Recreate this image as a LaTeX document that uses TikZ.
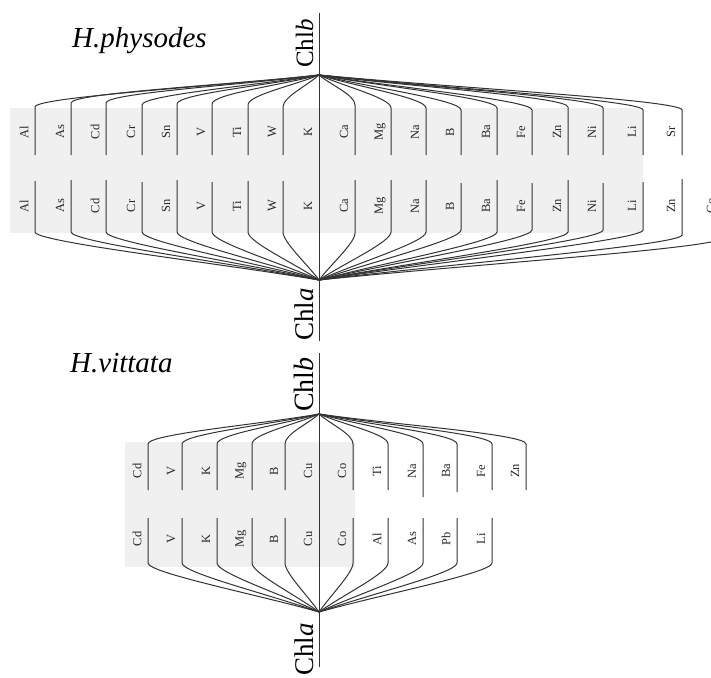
\documentclass[tikz,border=0pt]{standalone}
\usepackage{fontspec}
\setmainfont{Liberation Serif}
\usetikzlibrary{calc}
\begin{document}
\begin{tikzpicture}[x=1pt,y=-1pt,
  conn/.style={draw=black!80,line width=1pt},
  elem/.style={rotate=90,inner sep=0pt,font=\fontsize{12.5}{13}\selectfont,text=black!85},
  chl/.style={rotate=90,anchor=base west,inner sep=0pt,text=black},
  species/.style={anchor=base west,inner sep=0pt,font=\fontsize{29}{32}\selectfont\itshape},
  band/.style={fill=black!6,draw=none}]
\useasboundingbox (0,0) rectangle (711,677);
% background bands
\fill[band] (10,108) rectangle (643,233);
\fill[band] (125,442) rectangle (355,567);
% hubs
\coordinate (hubA) at (319,75);
\coordinate (hubB) at (319,280);
\coordinate (hubC) at (319,414);
\coordinate (hubD) at (319,612);
\coordinate (topA) at (319,13);
\coordinate (botB) at (319,341);
\coordinate (topC) at (319,353);
\coordinate (botD) at (319,667);
% titles
\node[species] (sp1) at (72,48) {H.physodes};
\node[species] (sp2) at (70,372) {H.vittata};
% Chl labels
\node[chl,font=\fontsize{25}{30}\selectfont] (chlbA) at (313,68) {Chl\textit{b}};
\node[chl,font=\fontsize{27}{30}\selectfont] (chlaB) at (313,341) {Chl\textit{a}};
\node[chl,font=\fontsize{28}{30}\selectfont] (chlbC) at (313,412) {Chl\textit{b}};
\node[chl,font=\fontsize{27}{30}\selectfont] (chlaD) at (313,676) {Chl\textit{a}};
% central axes
\draw[conn] (topA) -- (botB);
\draw[conn] (topC) -- (botD);
% ---------- H.physodes, upper row (Chlb) ----------
\foreach \lab/\x/\yt [count=\i] in {Al/35/107,As/71/103,Cd/106/103,Cr/142/105,Sn/177/104,V/212/104,Ti/248/105,W/283/107,K/319/107,Ca/355/105,Mg/391/108,Na/426/108,B/461/110,Ba/497/108,Fe/532/110,Zn/568/107,Ni/603/108,Li/643/110,Sr/682/110}{
  \draw[conn] (hubA) .. controls ($(hubA)!0.35!(\x,\yt)$) and (\x,\yt-10) .. (\x,\yt) -- (\x,155);
  \node[elem] (pu\i) at (\x-11,132) {\lab};
}
% ---------- H.physodes, lower row (Chla) ----------
\foreach \lab/\x/\yt/\yb [count=\i] in {Al/35/181/232,As/71/180/232,Cd/106/180/232,Cr/142/182/232,Sn/177/180/232,V/212/182/232,Ti/248/181/232,W/283/181/232,K/319/181/232,Ca/355/180/233,Mg/391/180/232,Na/426/180/232,B/461/183/230,Ba/497/180/232,Fe/532/183/230,Zn/568/180/232,Ni/603/183/230,Li/643/182/230,Zn/682/179/235,Co/722/179/238}{
  \draw[conn] (\x,\yt) -- (\x,\yb) .. controls (\x,\yb+10) and ($(hubB)!0.35!(\x,\yb)$) .. (hubB);
  \node[elem] (pl\i) at (\x-11,206) {\lab};
}
% ---------- H.vittata, upper row (Chlb) ----------
\foreach \lab/\x/\yb [count=\i] in {Cd/148/490,V/182/490,K/217/490,Mg/252/490,B/285/490,Cu/319/490,Co/353/490,Ti/388/490,Na/423/497,Ba/457/492,Fe/492/490,Zn/526/490}{
  \draw[conn] (hubC) .. controls ($(hubC)!0.35!(\x,444)$) and (\x,434) .. (\x,444) -- (\x,\yb);
  \node[elem] (vu\i) at (\x-11,471) {\lab};
}
% ---------- H.vittata, lower row (Chla) ----------
\foreach \lab/\x [count=\i] in {Cd/148,V/182,K/217,Mg/252,B/285,Cu/319,Co/353,Al/388,As/423,Pb/457,Li/492}{
  \draw[conn] (\x,518) -- (\x,563) .. controls (\x,573) and ($(hubD)!0.35!(\x,563)$) .. (hubD);
  \node[elem] (vl\i) at (\x-11,539) {\lab};
}
\end{tikzpicture}
\end{document}
